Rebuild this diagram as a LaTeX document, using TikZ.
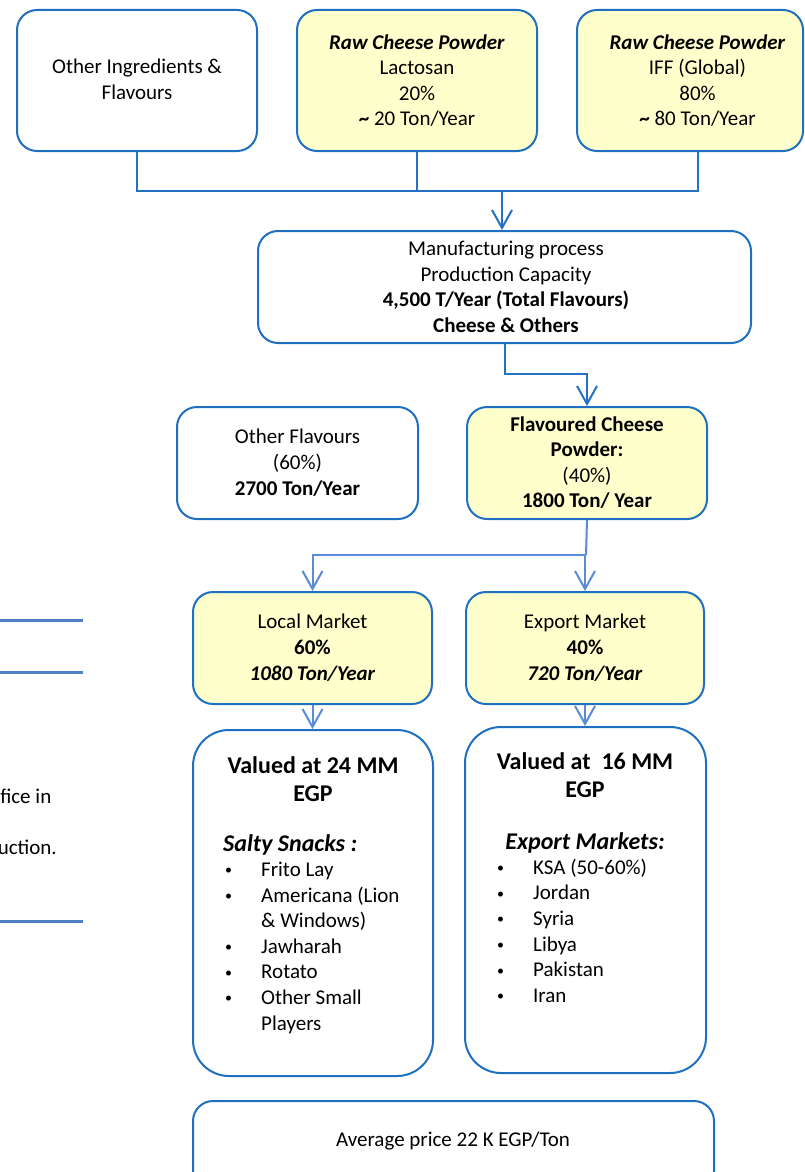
\documentclass[tikz,border=0pt]{standalone}
\usepackage{fontspec}
\setmainfont{Carlito}
\usetikzlibrary{arrows.meta}
\definecolor{bord}{RGB}{31,112,192}
\definecolor{connA}{RGB}{36,114,196}
\definecolor{connB}{RGB}{91,139,216}
\definecolor{pale}{RGB}{255,255,204}
\definecolor{stray}{RGB}{79,129,199}
\newcommand\mybul{\makebox[36pt][l]{\raisebox{1.6pt}{\fontsize{14}{14}\selectfont\textbullet}}}
\newcommand\myind{\hspace*{36pt}}
\tikzset{
  box/.style={draw=bord, line width=2pt, rounded corners=20pt, minimum width=240pt, minimum height=141pt, inner sep=0pt},
  ybox/.style={box, fill=pale},
  tallbox/.style={box, rounded corners=36pt, minimum height=346pt},
  txt/.style={align=center, inner sep=0pt, font=\fontsize{21}{25.6}\selectfont, execute at begin node=\strut, execute at end node=\strut},
  big/.style={txt, font=\fontsize{24}{28}\selectfont\bfseries},
  arr/.style={-{Straight Barb[length=18pt,width=20pt]}},
  connup/.style={draw=connA, line width=2pt},
  connlow/.style={draw=connB, line width=2pt},
  strayline/.style={draw=stray, line width=3pt}
}
\begin{document}
\begin{tikzpicture}[x=1pt,y=-1pt]
\useasboundingbox (0,0) rectangle (804,1172);
\clip (0,0) rectangle (804,1172);

% top row
\node[box] (ing) at (137,80.5) {};
\node[txt] (ingt) at (137,83) {Other Ingredients \&\\Flavours};
\node[ybox] (lac) at (417,80.5) {};
\node[txt] (lact) at (417,84) {\textbf{\textit{Raw Cheese Powder}}\\Lactosan\\20\%\\\textbf{\textasciitilde} 20 Ton/Year};
\node[ybox, minimum width=226pt] (iff) at (690,80.5) {};
\node[txt] (ifft) at (697.5,84) {\textbf{\textit{Raw Cheese Powder}}\\IFF (Global)\\80\%\\\textbf{\textasciitilde} 80 Ton/Year};

% manufacturing
\node[box, minimum width=493pt, minimum height=112pt] (mfg) at (504.5,287) {};
\node[txt] (mfgt) at (506,290.5) {Manufacturing process\\Production Capacity\\\textbf{4,500 T/Year (Total Flavours)}\\\textbf{Cheese \& Others}};

\coordinate (j1) at (502,191);
\draw[connup] (ing.south) |- (j1);
\draw[connup] (ifft |- iff.south) |- (j1);
\draw[connup] (lac.south) -- (lac.south |- j1);
\draw[connup, arr] (j1) -- (j1 |- mfg.north);

% flavours row
\node[box, minimum width=241pt, minimum height=112pt] (oth) at (297.5,463) {};
\node[txt] (otht) at (297.5,466) {Other Flavours\\(60\%)\\\textbf{2700 Ton/Year}};
\node[ybox, minimum width=240pt, minimum height=112pt] (flv) at (587,463) {};
\node[txt] (flvt) at (587,466) {\textbf{Flavoured Cheese}\\\textbf{Powder:}\\(40\%)\\\textbf{1800 Ton/ Year}};

\coordinate (j2) at (587,374);
\draw[connup, arr] (mfg.south) |- (j2) -- (flv.north);

% markets
\node[ybox, minimum width=239pt, minimum height=112pt] (loc) at (312.5,648) {};
\node[txt] (loct) at (312.5,651) {Local Market\\\textbf{60\%}\\\textbf{\textit{1080 Ton/Year}}};
\node[ybox, minimum width=238pt, minimum height=112pt] (exp) at (585,648) {};
\node[txt] (expt) at (585,651) {Export Market\\\textbf{40\%}\\\textbf{\textit{720 Ton/Year}}};

\coordinate (j3) at (586,555);
\draw[connlow] (flv.south) -- (j3);
\draw[connlow, arr] (j3) -| (loc.north);
\draw[connlow, arr] (exp.north |- j3) -- (exp.north);

% valued boxes
\node[tallbox, minimum width=240pt] (lv) at (313,903) {};
\node[tallbox, minimum width=241pt] (ev) at (585.5,900) {};
\draw[connlow, arr] (loc.south) -- (loc.south |- lv.north);
\draw[connlow, arr] (exp.south) -- (exp.south |- ev.north);

\node[big] (lvt) at (313,783) {Valued at 24 MM\\EGP};
\node[big, font=\fontsize{24}{28}\selectfont\bfseries\itshape, anchor=base west] (lvh) at (223,851.5) {Salty Snacks :};
\node[txt, align=left, anchor=west] (lvl) at (225,950) {\mybul Frito Lay\\\mybul Americana (Lion\\\myind\& Windows)\\\mybul Jawharah\\\mybul Rotato\\\mybul Other Small\\\myind Players};

\node[big] (evt) at (585,779) {Valued at\ \ 16 MM\\EGP};
\node[big, font=\fontsize{24}{28}\selectfont\bfseries\itshape, anchor=base] (evh) at (585,849.5) {Export Markets:};
\node[txt, align=left, anchor=west] (evl) at (497,934.4) {\mybul KSA (50-60\%)\\\mybul Jordan\\\mybul Syria\\\mybul Libya\\\mybul Pakistan\\\mybul Iran};

% bottom
\node[box, minimum width=521pt, minimum height=90pt] (avg) at (453.5,1146) {};
\node[txt, anchor=base] (avgt) at (453,1146.5) {Average price 22 K EGP/Ton};

% stray fragments at left
\coordinate (s1a) at (0,620); \coordinate (s1b) at (83,620);
\coordinate (s2a) at (0,672); \coordinate (s2b) at (83,672);
\coordinate (s3a) at (0,921); \coordinate (s3b) at (83,921);
\draw[strayline] (s1a) -- (s1b);
\draw[strayline] (s2a) -- (s2b);
\draw[strayline] (s3a) -- (s3b);
\node[txt, anchor=base east] (f1) at (51.5,803.5) {fice in};
\node[txt, anchor=base east] (f2) at (57,854.5) {uction.};
\end{tikzpicture}
\end{document}
